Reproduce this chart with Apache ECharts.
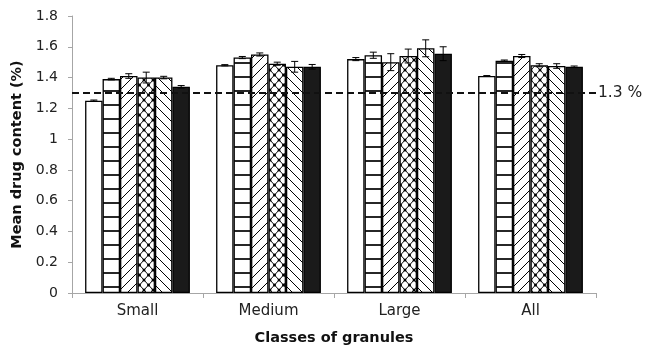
<!DOCTYPE html>
<html>
<head>
<meta charset="utf-8">
<script src="https://cdn.jsdelivr.net/npm/echarts@6/dist/echarts.min.js"></script>
<style>
  html, body { margin: 0; padding: 0; background: #ffffff; }
  #chart { width: 656px; height: 351px; }
</style>
</head>
<body>
<div id="chart"></div>
<script>
// Granule size classes on the x axis
const categories = ['Small', 'Medium', 'Large', 'All'];

// Mean drug content (%) for the six batches, one value per class
const batch1 = [1.25, 1.48, 1.52, 1.41];
const batch2 = [1.39, 1.53, 1.545, 1.51];
const batch3 = [1.41, 1.55, 1.50, 1.54];
const batch4 = [1.40, 1.49, 1.54, 1.48];
const batch5 = [1.40, 1.47, 1.59, 1.475];
const batch6 = [1.34, 1.47, 1.555, 1.47];

// Standard deviations (half length of each error bar)
const sd1 = [0.004, 0.004, 0.010, 0.003];
const sd2 = [0.005, 0.007, 0.020, 0.004];
const sd3 = [0.015, 0.010, 0.055, 0.010];
const sd4 = [0.035, 0.010, 0.045, 0.010];
const sd5 = [0.008, 0.035, 0.055, 0.015];
const sd6 = [0.008, 0.015, 0.045, 0.005];

// Target content shown as the dashed reference line
const targetLevel = 1.3;
const targetLabel = '1.3 %';

// y axis scale
const yMin = 0, yMax = 1.8, yStep = 0.2;

const means = [batch1, batch2, batch3, batch4, batch5, batch6];
const sds = [sd1, sd2, sd3, sd4, sd5, sd6];

const CATEGORY_GAP = 0.2;
const FONT = '"DejaVu Sans", sans-serif';

// Fill patterns drawn on small canvases
function makePattern(kind) {
  const c = document.createElement('canvas');
  const ctx = c.getContext('2d');
  if (kind === 'horizontal') {
    c.width = 8; c.height = 14;
    ctx.fillStyle = '#fff'; ctx.fillRect(0, 0, 8, 14);
    ctx.strokeStyle = '#000'; ctx.lineWidth = 1.7;
    ctx.beginPath(); ctx.moveTo(0, 7); ctx.lineTo(8, 7); ctx.stroke();
  } else if (kind === 'forward' || kind === 'backward') {
    const s = 10;
    c.width = s; c.height = s;
    ctx.fillStyle = '#fff'; ctx.fillRect(0, 0, s, s);
    ctx.strokeStyle = '#000'; ctx.lineWidth = 1;
    ctx.beginPath();
    if (kind === 'forward') {
      ctx.moveTo(-1, s + 1); ctx.lineTo(s + 1, -1);
      ctx.moveTo(-1, 1); ctx.lineTo(1, -1);
      ctx.moveTo(s - 1, s + 1); ctx.lineTo(s + 1, s - 1);
    } else {
      ctx.moveTo(-1, -1); ctx.lineTo(s + 1, s + 1);
      ctx.moveTo(s - 1, -1); ctx.lineTo(s + 1, 1);
      ctx.moveTo(-1, s - 1); ctx.lineTo(1, s + 1);
    }
    ctx.stroke();
  } else if (kind === 'cross') {
    const w = 9, h = 10;
    c.width = w; c.height = h;
    ctx.fillStyle = '#fff'; ctx.fillRect(0, 0, w, h);
    ctx.strokeStyle = '#000'; ctx.lineWidth = 1;
    ctx.beginPath();
    ctx.moveTo(0, 0); ctx.lineTo(w, h);
    ctx.moveTo(0, h); ctx.lineTo(w, 0);
    ctx.stroke();
    ctx.fillStyle = '#000';
    const dots = [[w / 2, h / 2], [0, 0], [w, 0], [0, h], [w, h]];
    dots.forEach(([x, y]) => { ctx.beginPath(); ctx.arc(x, y, 1.5, 0, Math.PI * 2); ctx.fill(); });
  }
  return { image: c, repeat: 'repeat' };
}

const fills = [
  '#ffffff',
  makePattern('horizontal'),
  makePattern('forward'),
  makePattern('cross'),
  makePattern('backward'),
  '#1a1a1a'
];

const barSeries = means.map((vals, k) => {
  const s = {
    name: 'Batch ' + (k + 1),
    type: 'bar',
    data: vals,
    barGap: '0%',
    barCategoryGap: (CATEGORY_GAP * 100) + '%',
    itemStyle: { color: fills[k], borderColor: '#000', borderWidth: 1.3 },
    emphasis: { disabled: true },
    z: 2
  };
  if (k === 0) {
    s.markLine = {
      silent: true,
      symbol: 'none',
      data: [{ yAxis: targetLevel }],
      lineStyle: { color: '#111', type: [7, 4], width: 1.9 },
      label: {
        show: true, position: 'end', formatter: targetLabel,
        fontFamily: FONT, fontSize: 15.5, color: '#222', distance: 2
      },
      z: 10
    };
  }
  return s;
});

// Error bars placed over the matching bar within each category group
const errorSeries = means.map((vals, k) => ({
  type: 'custom',
  z: 6,
  silent: true,
  data: vals.map((m, i) => [i, m, sds[k][i]]),
  renderItem(params, api) {
    const i = api.value(0), m = api.value(1), e = api.value(2);
    const centre = api.coord([i, m]);
    const band = api.size([1, 0])[0];
    const bw = band * (1 - CATEGORY_GAP) / means.length;
    const x = centre[0] + (k - (means.length - 1) / 2) * bw;
    const yTop = api.coord([i, m + e])[1];
    const yBot = api.coord([i, m - e])[1];
    const cap = 3.5;
    const st = { stroke: '#000', lineWidth: 1 };
    return {
      type: 'group',
      children: [
        { type: 'line', shape: { x1: x, y1: yTop, x2: x, y2: yBot }, style: st },
        { type: 'line', shape: { x1: x - cap, y1: yTop, x2: x + cap, y2: yTop }, style: st },
        { type: 'line', shape: { x1: x - cap, y1: yBot, x2: x + cap, y2: yBot }, style: st }
      ]
    };
  }
}));

const chart = echarts.init(document.getElementById('chart'), null, { renderer: 'canvas' });
chart.setOption({
  animation: false,
  backgroundColor: '#ffffff',
  grid: { left: 72, right: 60, top: 16, bottom: 57, containLabel: false },
  xAxis: {
    type: 'category',
    data: categories,
    axisLine: { lineStyle: { color: '#a6a6a6', width: 1 } },
    axisTick: { show: true, length: 5, alignWithLabel: false, lineStyle: { color: '#a6a6a6' } },
    axisLabel: { fontFamily: FONT, fontSize: 15, color: '#222', margin: 11 },
    name: 'Classes of granules',
    nameLocation: 'middle',
    nameGap: 38,
    nameTextStyle: { fontFamily: FONT, fontSize: 14.5, fontWeight: 'bold', color: '#111' },
    splitLine: { show: false }
  },
  yAxis: {
    type: 'value',
    min: yMin, max: yMax, interval: yStep,
    axisLine: { show: true, lineStyle: { color: '#a6a6a6', width: 1 } },
    axisTick: { show: true, length: 4, lineStyle: { color: '#a6a6a6' } },
    axisLabel: { fontFamily: FONT, fontSize: 14, color: '#222', margin: 14 },
    splitLine: { show: false },
    name: 'Mean drug content (%)',
    nameLocation: 'middle',
    nameGap: 47,
    nameTextStyle: { fontFamily: FONT, fontSize: 14.5, fontWeight: 'bold', color: '#111' }
  },
  series: barSeries.concat(errorSeries)
});
</script>
</body>
</html>
